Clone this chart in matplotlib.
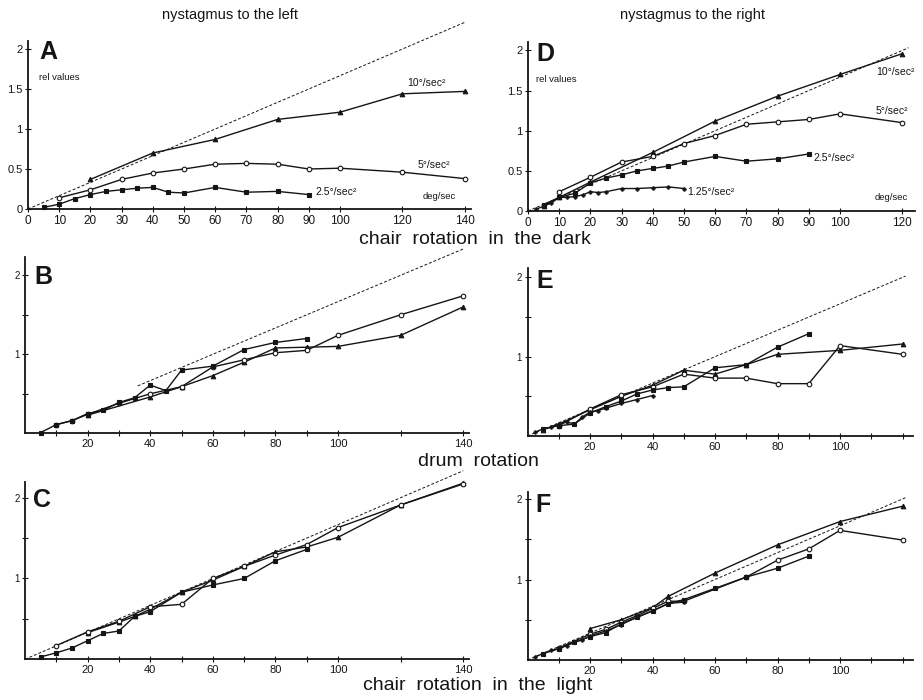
import matplotlib
matplotlib.use("Agg")
import matplotlib.pyplot as plt
import numpy as np

plt.rcParams['font.family'] = ['Liberation Sans', 'DejaVu Sans']

# ---------------- data ----------------
# Panel A: nystagmus to the left, chair rotation in the dark
A10_x = [20, 40, 60, 80, 100, 120, 140]
A10_y = [0.37, 0.70, 0.87, 1.12, 1.21, 1.44, 1.47]
A5_x = [10, 20, 30, 40, 50, 60, 70, 80, 90, 100, 120, 140]
A5_y = [0.14, 0.24, 0.37, 0.45, 0.50, 0.56, 0.57, 0.56, 0.50, 0.51, 0.46, 0.38]
A25_x = [5, 10, 15, 20, 25, 30, 35, 40, 45, 50, 60, 70, 80, 90]
A25_y = [0.02, 0.06, 0.13, 0.18, 0.22, 0.24, 0.26, 0.27, 0.21, 0.20, 0.27, 0.21, 0.22, 0.18]

# Panel D: nystagmus to the right, chair rotation in the dark
D10_x = [5, 10, 20, 40, 60, 80, 100, 120]
D10_y = [0.06, 0.17, 0.36, 0.73, 1.12, 1.43, 1.70, 1.96]
D5_x = [10, 20, 30, 40, 50, 60, 70, 80, 90, 100, 120]
D5_y = [0.24, 0.42, 0.61, 0.68, 0.84, 0.94, 1.08, 1.11, 1.14, 1.21, 1.10]
D25_x = [5, 10, 15, 20, 25, 30, 35, 40, 45, 50, 60, 70, 80, 90]
D25_y = [0.08, 0.17, 0.22, 0.35, 0.41, 0.45, 0.50, 0.53, 0.56, 0.61, 0.68, 0.62, 0.65, 0.71]
D125_x = [2.5, 5, 7.5, 10, 12.5, 15, 17.5, 20, 22.5, 25, 30, 35, 40, 45, 50]
D125_y = [0.02, 0.06, 0.10, 0.17, 0.17, 0.18, 0.20, 0.24, 0.23, 0.24, 0.28, 0.28, 0.29, 0.30, 0.28]

# Panel B: left, drum rotation
B10_x = [20, 40, 50, 60, 70, 80, 90, 100, 120, 140]
B10_y = [0.23, 0.46, 0.59, 0.73, 0.90, 1.08, 1.09, 1.10, 1.24, 1.60]
B5_x = [10, 15, 20, 30, 40, 50, 60, 70, 80, 90, 100, 120, 140]
B5_y = [0.11, 0.16, 0.24, 0.38, 0.50, 0.59, 0.84, 0.93, 1.02, 1.05, 1.24, 1.50, 1.74]
B25_x = [5, 10, 15, 20, 25, 30, 35, 40, 45, 50, 60, 70, 80, 90]
B25_y = [0.01, 0.11, 0.16, 0.25, 0.29, 0.39, 0.45, 0.61, 0.54, 0.80, 0.85, 1.06, 1.15, 1.20]

# Panel E: right, drum rotation
E10_x = [5, 10, 20, 30, 40, 50, 60, 70, 80, 100, 120]
E10_y = [0.08, 0.15, 0.33, 0.50, 0.64, 0.83, 0.78, 0.90, 1.03, 1.08, 1.16]
E5_x = [10, 20, 30, 40, 50, 60, 70, 80, 90, 100, 120]
E5_y = [0.13, 0.34, 0.52, 0.62, 0.78, 0.73, 0.73, 0.66, 0.66, 1.14, 1.03]
E25_x = [5, 10, 15, 20, 25, 30, 35, 40, 45, 50, 60, 70, 80, 90]
E25_y = [0.09, 0.13, 0.15, 0.29, 0.37, 0.44, 0.53, 0.58, 0.61, 0.62, 0.86, 0.90, 1.12, 1.29]
E125_x = [2.5, 5, 7.5, 10, 12.5, 15, 17.5, 20, 22.5, 25, 30, 35, 40]
E125_y = [0.05, 0.09, 0.11, 0.15, 0.18, 0.15, 0.24, 0.30, 0.32, 0.35, 0.41, 0.46, 0.51]

# Panel C: left, chair rotation in the light
C10_x = [20, 30, 35, 40, 50, 60, 70, 80, 90, 100, 120, 140]
C10_y = [0.33, 0.46, 0.53, 0.62, 0.83, 0.98, 1.15, 1.33, 1.39, 1.51, 1.91, 2.18]
C5_x = [10, 20, 30, 40, 50, 60, 70, 80, 90, 100, 120, 140]
C5_y = [0.17, 0.34, 0.47, 0.65, 0.68, 1.00, 1.15, 1.29, 1.42, 1.63, 1.91, 2.17]
C25_x = [5, 10, 15, 20, 25, 30, 35, 40, 50, 60, 70, 80, 90]
C25_y = [0.03, 0.08, 0.14, 0.23, 0.32, 0.35, 0.53, 0.59, 0.83, 0.92, 1.00, 1.22, 1.36]

# Panel F: right, chair rotation in the light
F10_x = [20, 30, 40, 45, 60, 80, 100, 120]
F10_y = [0.39, 0.50, 0.65, 0.79, 1.08, 1.43, 1.72, 1.91]
F5_x = [10, 20, 25, 30, 35, 40, 45, 50, 70, 80, 90, 100, 120]
F5_y = [0.15, 0.32, 0.38, 0.47, 0.55, 0.64, 0.73, 0.73, 1.03, 1.24, 1.38, 1.61, 1.49]
F25_x = [5, 10, 15, 20, 25, 30, 35, 40, 45, 50, 60, 70, 80, 90]
F25_y = [0.08, 0.14, 0.22, 0.29, 0.34, 0.45, 0.53, 0.61, 0.70, 0.75, 0.89, 1.03, 1.14, 1.29]
F125_x = [2.5, 5, 7.5, 10, 12.5, 15, 17.5, 20, 25, 30, 35, 40, 45, 50]
F125_y = [0.04, 0.08, 0.12, 0.14, 0.18, 0.22, 0.25, 0.30, 0.36, 0.44, 0.53, 0.61, 0.70, 0.72]

# reference (ideal) lines: start and end of dashed line, slope 1/60
REF_SLOPE = 1.0 / 60.0
A_ref = [0, 140]
D_ref = [0, 122]
B_ref = [36, 140]
E_ref = [0, 121]
C_ref = [0, 140]
F_ref = [0, 121]

# ---------------- figure ----------------
W, H = 923, 700
fig = plt.figure(figsize=(W / 100, H / 100), dpi=100)
INK = '#151515'


def make_ax(x0px, pxx, xmax, y0px, pxy, ymax):
    left = x0px / W
    width = xmax * pxx / W
    bottom = (H - y0px) / H
    height = ymax * pxy / H
    ax = fig.add_axes([left, bottom, width, height])
    ax.set_xlim(0, xmax)
    ax.set_ylim(0, ymax)
    for s in ['top', 'right']:
        ax.spines[s].set_visible(False)
    for s in ['left', 'bottom']:
        ax.spines[s].set_linewidth(1.3)
        ax.spines[s].set_color(INK)
    ax.tick_params(direction='inout', length=5, width=0.8, colors=INK,
                   labelsize=7.5, pad=1.5)
    ax.patch.set_alpha(0)
    return ax


def series(ax, x, y, marker, mfc, ms=4.0):
    ax.plot(x, y, color=INK, lw=1.0, marker=marker, ms=ms, mfc=mfc,
            mec=INK, mew=0.8, clip_on=False, zorder=3)


def ref(ax, xs):
    xs = np.array(xs, dtype=float)
    ax.plot(xs, xs * REF_SLOPE, color=INK, lw=0.7, ls=(0, (3, 2)),
            clip_on=False, zorder=2)


def draw_all(ax, s10, s5, s25, s125=None):
    series(ax, *s10, '^', INK, 3.3)
    series(ax, *s5, 'o', 'white', 3.3)
    series(ax, *s25, 's', INK, 3.0)
    if s125 is not None:
        series(ax, *s125, 'P', INK, 2.4)


# ---- A ----
axA = make_ax(28, 3.12, 142, 209, 80, 2.1)
ref(axA, A_ref)
draw_all(axA, (A10_x, A10_y), (A5_x, A5_y), (A25_x, A25_y))
axA.set_xticks(list(range(0, 101, 10)) + [120, 140])
axA.set_xticklabels([str(v) for v in list(range(0, 101, 10)) + [120, 140]], fontsize=8.5)
axA.set_yticks([0, 0.5, 1, 1.5, 2])
axA.set_yticklabels(['0', '0.5', '1', '1.5', '2'], fontsize=8)
axA.text(3.5, 1.64, 'rel values', fontsize=6.8, va='center', color=INK)
axA.text(126.5, 0.16, 'deg/sec', fontsize=6.8, va='center', color=INK)
axA.text(121.5, 1.57, '10°/sec²', fontsize=7.5, va='center', color=INK)
axA.text(125, 0.55, '5°/sec²', fontsize=7.5, va='center', color=INK)
axA.text(92, 0.21, '2.5°/sec²', fontsize=7.5, va='center', color=INK)

# ---- D ----
axD = make_ax(528, 3.12, 124, 211, 80.3, 2.1)
ref(axD, D_ref)
draw_all(axD, (D10_x, D10_y), (D5_x, D5_y), (D25_x, D25_y), (D125_x, D125_y))
axD.set_xticks(list(range(0, 101, 10)) + [120])
axD.set_xticklabels([str(v) for v in list(range(0, 101, 10)) + [120]], fontsize=8.5)
axD.set_yticks([0, 0.5, 1, 1.5, 2])
axD.set_yticklabels(['0', '0.5', '1', '1.5', '2'], fontsize=8)
axD.text(2.5, 1.64, 'rel values', fontsize=6.8, va='center', color=INK)
axD.text(111, 0.17, 'deg/sec', fontsize=6.8, va='center', color=INK)
axD.text(111.5, 1.73, '10°/sec²', fontsize=7.5, va='center', color=INK)
axD.text(111.5, 1.245, '5°/sec²', fontsize=7.5, va='center', color=INK)
axD.text(91.5, 0.66, '2.5°/sec²', fontsize=7.5, va='center', color=INK)
axD.text(51, 0.24, '1.25°/sec²', fontsize=7.5, va='center', color=INK)

# ---- B ----
axB = make_ax(25, 3.13, 142, 433.3, 79.0, 2.23)
ref(axB, B_ref)
draw_all(axB, (B10_x, B10_y), (B5_x, B5_y), (B25_x, B25_y))
axB.set_xticks(list(range(10, 101, 10)) + [120, 140])
axB.set_xticklabels(['', '20', '', '40', '', '60', '', '80', '', '100', '', '140'], fontsize=8)
axB.set_yticks([0.5, 1, 1.5, 2])
axB.set_yticklabels(['', '1', '', '2'], fontsize=7)

# ---- E ----
axE = make_ax(527.5, 3.125, 123.5, 436, 79.3, 2.12)
ref(axE, E_ref)
draw_all(axE, (E10_x, E10_y), (E5_x, E5_y), (E25_x, E25_y), (E125_x, E125_y))
axE.set_xticks(list(range(10, 121, 10)))
axE.set_xticklabels(['', '20', '', '40', '', '60', '', '80', '', '100', '', ''], fontsize=8)
axE.set_yticks([0.5, 1, 1.5, 2])
axE.set_yticklabels(['', '1', '', '2'], fontsize=7)

# ---- C ----
axC = make_ax(25, 3.13, 142, 659.3, 80.8, 2.2)
ref(axC, C_ref)
draw_all(axC, (C10_x, C10_y), (C5_x, C5_y), (C25_x, C25_y))
axC.set_xticks(list(range(10, 101, 10)) + [120, 140])
axC.set_xticklabels(['', '20', '', '40', '', '60', '', '80', '', '100', '', '140'], fontsize=8)
axC.set_yticks([0.5, 1, 1.5, 2])
axC.set_yticklabels(['', '1', '', '2'], fontsize=7)

# ---- F ----
axF = make_ax(527.5, 3.125, 123.5, 660, 80.5, 2.09)
ref(axF, F_ref)
draw_all(axF, (F10_x, F10_y), (F5_x, F5_y), (F25_x, F25_y), (F125_x, F125_y))
axF.set_xticks(list(range(10, 121, 10)))
axF.set_xticklabels(['', '20', '', '40', '', '60', '', '80', '', '100', '', ''], fontsize=8)
axF.set_yticks([0.5, 1, 1.5, 2])
axF.set_yticklabels(['', '1', '', '2'], fontsize=7)

# ---- panel letters ----
for letter, px, py in [('A', 39, 40), ('D', 536, 42), ('B', 34, 265),
                       ('E', 536, 269), ('C', 33, 488), ('F', 535, 493)]:
    fig.text(px / W, 1 - py / H, letter, fontsize=18, fontweight='bold',
             ha='left', va='top', color=INK)

# ---- titles & axis captions ----
fig.text(230 / W, 1 - 15 / H, 'nystagmus to the left', fontsize=10.5, ha='center', va='center', color=INK)
fig.text(693 / W, 1 - 15 / H, 'nystagmus to the right', fontsize=10.5, ha='center', va='center', color=INK)
fig.text(475 / W, 1 - 240 / H, 'chair  rotation  in  the  dark', fontsize=14, ha='center', va='center', color=INK)
fig.text(478 / W, 1 - 461 / H, 'drum  rotation', fontsize=14, ha='center', va='center', color=INK)
fig.text(478 / W, 1 - 685 / H, 'chair  rotation  in  the  light', fontsize=14, ha='center', va='center', color=INK)

fig.savefig('out.png', dpi=100)
